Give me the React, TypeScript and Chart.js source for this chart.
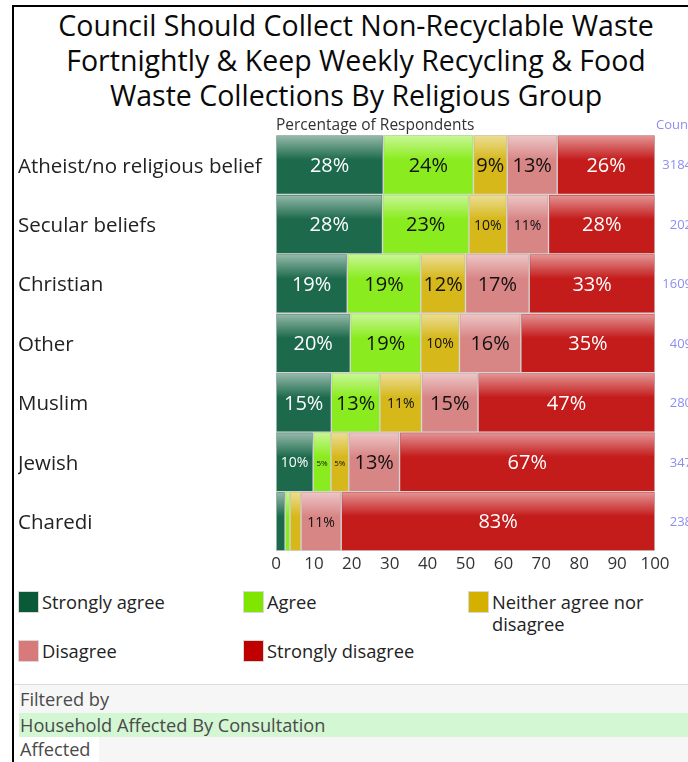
import React, { useEffect, useRef } from "react";
import { Chart, registerables } from "chart.js";

Chart.register(...registerables);

const FONT = "'Open Sans', 'Noto Sans', sans-serif";

const titleLines = [
  "Council Should Collect Non-Recyclable Waste",
  "Fortnightly & Keep Weekly Recycling & Food",
  "Waste Collections By Religious Group",
];
const axisCaption = "Percentage of Respondents";
const countCaption = "Count";

const categories = [
  "Atheist/no religious belief",
  "Secular beliefs",
  "Christian",
  "Other",
  "Muslim",
  "Jewish",
  "Charedi",
];
const seriesNames = [
  "Strongly agree",
  "Agree",
  "Neither agree nor disagree",
  "Disagree",
  "Strongly disagree",
];
const stronglyAgree = [28.3, 28.1, 18.8, 19.6, 14.6, 9.8, 2.4];
const agree = [23.8, 22.8, 19.4, 18.6, 12.8, 4.7, 1.3];
const neither = [8.9, 10.0, 11.8, 10.2, 11.0, 4.7, 2.9];
const disagree = [13.2, 11.0, 16.8, 16.2, 14.9, 13.4, 10.6];
const stronglyDisagree = [25.8, 28.1, 33.2, 35.4, 46.7, 67.4, 82.8];
const counts = ["3184", "202", "1609", "409", "280", "347", "238"];

const barColors = ["#1c6a4b", "#8aec1e", "#d6b81b", "#d88585", "#c41b1b"];
const legendColors = ["#0b5a37", "#80e600", "#d4b000", "#d87a7a", "#c00000"];
const labelColors = ["#ffffff", "#111111", "#111111", "#111111", "#ffffff"];

const filterLabel = "Filtered by";
const filterField = "Household Affected By Consultation";
const filterValue = "Affected";

const barDecor = {
  id: "barDecor",
  afterDatasetsDraw(chart: any) {
    const ctx = chart.ctx as CanvasRenderingContext2D;
    chart.data.datasets.forEach((ds: any, di: number) => {
      const meta = chart.getDatasetMeta(di);
      meta.data.forEach((el: any, i: number) => {
        const { x, y, base, height } = el.getProps(["x", "y", "base", "height"], true);
        const left = Math.min(x, base);
        const right = Math.max(x, base);
        const top = y - height / 2;
        const gh = height * 0.42;
        ctx.save();
        const g = ctx.createLinearGradient(0, top, 0, top + gh);
        g.addColorStop(0, "rgba(255,255,255,0.55)");
        g.addColorStop(1, "rgba(255,255,255,0)");
        ctx.fillStyle = g;
        ctx.fillRect(left + 1, top + 1, right - left - 2, gh);
        ctx.restore();

        const v = ds.data[i] as number;
        if (v < 4) return;
        const text = Math.round(v) + "%";
        const w = right - left;
        let size = 0;
        for (const s of [20, 14, 12, 10, 8]) {
          ctx.font = `${s}px ${FONT}`;
          if (ctx.measureText(text).width + 4 <= w) {
            size = s;
            break;
          }
        }
        if (!size) return;
        ctx.save();
        ctx.font = `${size}px ${FONT}`;
        ctx.fillStyle = labelColors[di];
        ctx.textAlign = "center";
        ctx.textBaseline = "middle";
        ctx.fillText(text, (left + right) / 2, y + 1.5);
        ctx.restore();
      });
    });
  },
};

const captions = {
  id: "captions",
  afterDraw(chart: any) {
    const ctx = chart.ctx as CanvasRenderingContext2D;
    const area = chart.chartArea;
    ctx.save();
    ctx.font = `15.5px ${FONT}`;
    ctx.fillStyle = "#333";
    ctx.textAlign = "left";
    ctx.textBaseline = "alphabetic";
    ctx.fillText(axisCaption, area.left, area.top - 5);
    ctx.font = `13px ${FONT}`;
    ctx.fillStyle = "#8e8ef2";
    ctx.fillText(countCaption, area.right + 1, area.top - 6);
    const yScale = chart.scales.y;
    ctx.textAlign = "right";
    ctx.textBaseline = "middle";
    counts.forEach((c, i) => {
      ctx.fillText(c, area.right + 37, yScale.getPixelForValue(i) + 1);
    });
    ctx.restore();
  },
};

export default function App() {
  const canvasRef = useRef<HTMLCanvasElement | null>(null);

  useEffect(() => {
    document.body.style.margin = "0";
    document.body.style.overflow = "hidden";
    const series = [stronglyAgree, agree, neither, disagree, stronglyDisagree];
    const chart = new Chart(canvasRef.current as HTMLCanvasElement, {
      type: "bar",
      data: {
        labels: categories,
        datasets: series.map((d, i) => ({
          label: seriesNames[i],
          data: d,
          backgroundColor: barColors[i],
          borderColor: "#d4d4d4",
          borderWidth: 1,
          borderSkipped: false,
          barPercentage: 1,
          categoryPercentage: 1,
        })),
      },
      options: {
        indexAxis: "y",
        responsive: false,
        animation: false,
        layout: { padding: { left: 3, right: 42, top: 23, bottom: 0 } },
        plugins: {
          legend: { display: false },
          title: { display: false },
          tooltip: { enabled: false },
        },
        scales: {
          x: {
            stacked: true,
            min: 0,
            max: 100,
            ticks: { stepSize: 10, color: "#333", padding: 3, font: { family: FONT, size: 17 } },
            grid: { display: false, drawTicks: false },
            border: { display: false },
            afterFit: (s: any) => {
              s.height = 28;
            },
          },
          y: {
            stacked: true,
            ticks: {
              crossAlign: "far",
              autoSkip: false,
              labelOffset: 2,
              color: "#222",
              font: { family: FONT, size: 20.5 },
            },
            grid: { display: false, drawTicks: false },
            border: { display: false },
            afterFit: (s: any) => {
              s.width = 258;
            },
          },
        },
      } as any,
      plugins: [barDecor, captions],
    });
    return () => chart.destroy();
  }, []);

  const legendPos = [
    { left: 18, top: 591 },
    { left: 243, top: 591 },
    { left: 468, top: 591 },
    { left: 18, top: 640 },
    { left: 243, top: 640 },
  ];

  return (
    <div
      style={{
        position: "relative",
        width: 688,
        height: 762,
        overflow: "hidden",
        background: "#fff",
        fontFamily: FONT,
      }}
    >
      <div
        style={{
          position: "absolute",
          left: 12,
          top: 5,
          width: 800,
          height: 900,
          borderLeft: "2px solid #000",
          borderTop: "2px solid #000",
        }}
      />
      <div
        style={{
          position: "absolute",
          left: 15,
          top: 8,
          width: 682,
          textAlign: "center",
          fontSize: 28.5,
          lineHeight: "35px",
          color: "#0a0a0a",
        }}
      >
        {titleLines.map((l) => (
          <div key={l}>{l}</div>
        ))}
      </div>
      <canvas
        ref={canvasRef}
        width={682}
        height={467}
        style={{ position: "absolute", left: 15, top: 112, width: 682, height: 467 }}
      />
      {seriesNames.map((name, i) => (
        <div
          key={name}
          style={{
            position: "absolute",
            left: legendPos[i].left,
            top: legendPos[i].top,
            display: "flex",
            alignItems: "flex-start",
          }}
        >
          <div
            style={{
              width: 19,
              height: 20,
              background: legendColors[i],
              border: "1px solid #d8d8d8",
              flex: "none",
            }}
          />
          <div
            style={{
              marginLeft: 3,
              width: 180,
              fontSize: 18.3,
              lineHeight: "22px",
              color: "#222",
            }}
          >
            {name}
          </div>
        </div>
      ))}
      <div
        style={{
          position: "absolute",
          left: 14,
          top: 684,
          width: 700,
          height: 80,
          borderTop: "1px solid #dcdcdc",
        }}
      >
        <div style={{ marginLeft: 5, background: "#f6f6f6", height: 80, fontSize: 18.2, color: "#4a4a4a" }}>
          <div style={{ height: 28, lineHeight: "28px", paddingLeft: 1 }}>{filterLabel}</div>
          <div style={{ height: 24, lineHeight: "24px", paddingLeft: 1, background: "#d3f6d3" }}>{filterField}</div>
          <div style={{ height: 25, lineHeight: "25px" }}>
            <span style={{ display: "inline-block", background: "#fff", padding: "0 8px 0 1px" }}>{filterValue}</span>
          </div>
        </div>
      </div>
    </div>
  );
}
